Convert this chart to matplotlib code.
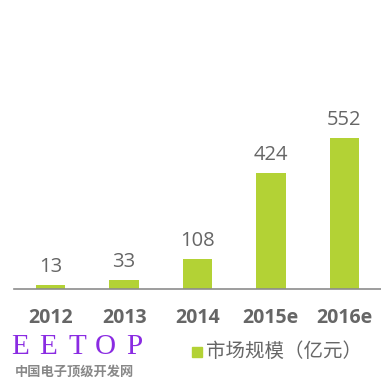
import matplotlib
matplotlib.use("Agg")
import matplotlib.pyplot as plt

years = ["2012", "2013", "2014", "2015e", "2016e"]
market_size = [13, 33, 108, 424, 552]
legend_label = "市场规模（亿元）"
watermark_letters = ["E", "E", "T", "O", "P"]

bar_color = "#b3d235"
text_gray = "#666666"

plt.rcParams['font.family'] = ['Noto Sans CJK SC', 'DejaVu Sans']

fig = plt.figure(figsize=(3.81, 3.84), dpi=100)
ax = fig.add_axes([14 / 381, 95 / 384, 367 / 381, 279 / 384])

x = range(len(years))
ax.bar(x, market_size, width=0.4, color=bar_color)

for xi, v in zip(x, market_size):
    ax.annotate(str(v), (xi, v), xytext=(0, 6), textcoords="offset points",
                ha="center", va="bottom", fontsize=14.5, color=text_gray,
                family=['Open Sans', 'DejaVu Sans'])

ax.set_xlim(-0.5, 4.5)
ax.set_ylim(0, 1020)
ax.set_xticks(list(x))
ax.set_xticklabels(years, fontsize=14, fontweight="bold", color=text_gray,
                   family=['Open Sans', 'DejaVu Sans'])
ax.tick_params(axis="x", length=0, pad=14)
ax.set_yticks([])
for side in ["top", "right", "left"]:
    ax.spines[side].set_visible(False)
ax.spines["bottom"].set_color("#8c8c8c")
ax.spines["bottom"].set_linewidth(1.2)

# legend
fig.patches.append(plt.Rectangle((192 / 381, 1 - 357 / 384), 10 / 381, 10 / 384,
                                 transform=fig.transFigure, color=bar_color))
fig.text(206 / 381, 1 - 351 / 384, legend_label, fontsize=14, color=text_gray,
         va="center", ha="left")

# watermark
for i, letter in enumerate(watermark_letters):
    fig.text((20 + i * 28.5) / 381, 1 - 347 / 384, letter, fontsize=21,
             color="#8a2be2", family=["Liberation Serif"], va="center", ha="center")
fig.text(15 / 381, 1 - 372 / 384, "中国电子顶级开发网", fontsize=9.5, color="#888888",
         va="center", ha="left", fontweight="bold")

fig.savefig("out.png", dpi=100)
